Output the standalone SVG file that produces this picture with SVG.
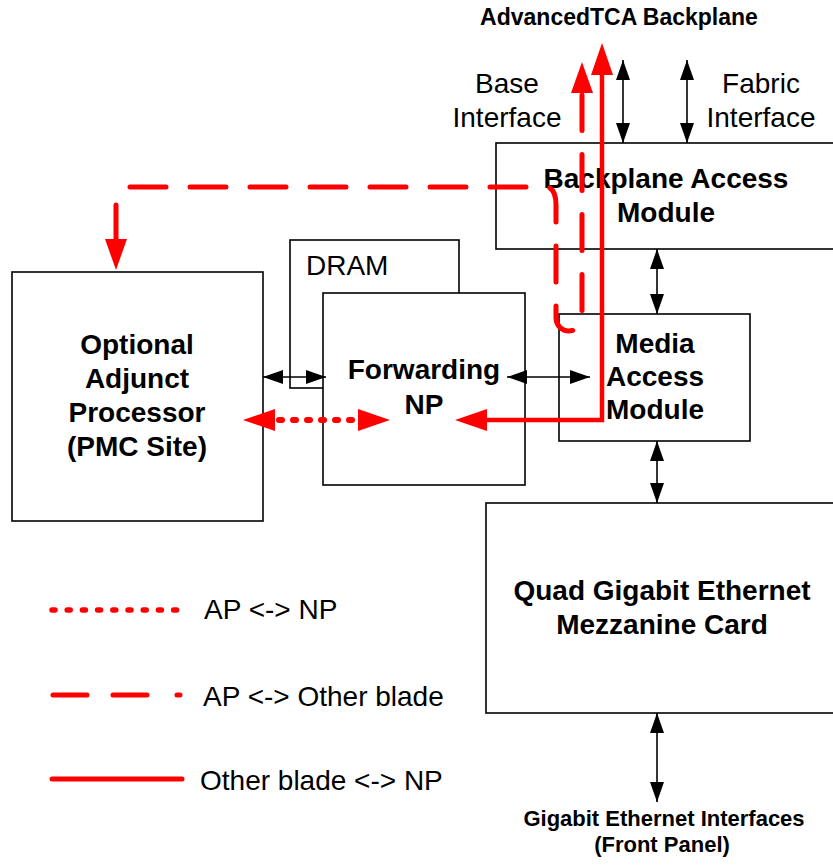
<svg xmlns="http://www.w3.org/2000/svg" width="833" height="865" viewBox="0 0 833 865">
<defs>
<style>
.box{fill:#fff;stroke:#000;stroke-width:1.6}
.b{font-family:"Liberation Sans",Arial,sans-serif;font-weight:bold;font-size:28px;fill:#000;text-anchor:middle}
.r{font-family:"Liberation Sans",Arial,sans-serif;font-size:28px;fill:#000}
.t{font-family:"Liberation Sans",Arial,sans-serif;font-weight:bold;font-size:22px;fill:#000;text-anchor:middle}
.bk{stroke:#000;stroke-width:1.6;fill:none;marker-start:url(#ah);marker-end:url(#ah)}
.dash{stroke:#f00;stroke-width:5;fill:none;stroke-dasharray:36 24;stroke-linecap:round;stroke-linejoin:round}
.dot{stroke:#f00;stroke-width:6;fill:none;stroke-dasharray:3 11;stroke-linecap:round}
.solid{stroke:#f00;stroke-width:4.5;fill:none;stroke-linejoin:miter}
.rh{fill:#f00}
</style>
<marker id="ah" viewBox="0 0 20 14" refX="20" refY="7" markerWidth="20" markerHeight="14" markerUnits="userSpaceOnUse" orient="auto-start-reverse">
<path d="M0,0 L20,7 L0,14 Z" fill="#000"/>
</marker>
</defs>

<g id="title">
<text class="t" x="619" y="25" style="font-size:23px">AdvancedTCA Backplane</text>
<text class="r" x="507" y="93" text-anchor="middle">Base</text>
<text class="r" x="507" y="127" text-anchor="middle">Interface</text>
<text class="r" x="761" y="93" text-anchor="middle">Fabric</text>
<text class="r" x="761" y="127" text-anchor="middle">Interface</text>
</g>

<g id="bam">
<rect class="box" x="496" y="143" width="350" height="106"/>
<text class="b" x="666" y="188">Backplane Access</text>
<text class="b" x="666" y="222">Module</text>
</g>

<g id="dram">
<rect class="box" x="290" y="240" width="169" height="148"/>
<text class="r" x="306" y="275">DRAM</text>
</g>

<g id="np">
<rect class="box" x="323" y="293" width="202" height="192"/>
<text class="b" x="424" y="379">Forwarding</text>
<text class="b" x="424" y="414">NP</text>
</g>

<g id="ap">
<rect class="box" x="12" y="272" width="251" height="249"/>
<text class="b" x="137" y="354">Optional</text>
<text class="b" x="137" y="388">Adjunct</text>
<text class="b" x="137" y="422">Processor</text>
<text class="b" x="137" y="456">(PMC Site)</text>
</g>

<g id="mam">
<rect class="box" x="559" y="314" width="191" height="127"/>
<text class="b" x="655" y="353">Media</text>
<text class="b" x="655" y="386">Access</text>
<text class="b" x="655" y="419">Module</text>
</g>

<g id="quad">
<rect class="box" x="486" y="503" width="360" height="210"/>
<text class="b" x="662" y="600">Quad Gigabit Ethernet</text>
<text class="b" x="662" y="634">Mezzanine Card</text>
</g>

<g id="front">
<text class="t" x="664" y="826">Gigabit Ethernet Interfaces</text>
<text class="t" x="662" y="852">(Front Panel)</text>
</g>

<g id="connectors">
<line class="bk" x1="623" y1="60" x2="623" y2="143"/>
<line class="bk" x1="687" y1="60" x2="687" y2="143"/>
<line class="bk" x1="657" y1="249" x2="657" y2="314"/>
<line class="bk" x1="657" y1="441" x2="657" y2="503"/>
<line class="bk" x1="657" y1="713" x2="657" y2="802"/>
<line class="bk" x1="263" y1="377" x2="326" y2="377"/>
<line class="bk" x1="507" y1="377" x2="590" y2="377"/>

<!-- AP <-> Other blade (dashed) -->
<path class="dash" d="M116,205 L116,240"/>
<path class="dash" d="M130,187 L548,187 Q556,190 556,205 L556,318 A13,13 0 0 0 582,318 L582,95"/>
<polygon class="rh" points="582,62 571,93 593,93"/>
<polygon class="rh" points="116,270 105,239 127,239"/>

<!-- Other blade <-> NP (solid) -->
<path class="solid" d="M602,74 L602,420 L486,420"/>
<polygon class="rh" points="602,43 591,75 613,75"/>
<polygon class="rh" points="455,420 487,409 487,431"/>

<!-- AP <-> NP (dotted) -->
<path class="dot" d="M279,420 L356,420"/>
<polygon class="rh" points="243,420 275,409 275,431"/>
<polygon class="rh" points="390,420 358,409 358,431"/>
</g>

<g id="legend">
<path class="dot" d="M52,610 L182,610" style="stroke-width:5.5;stroke-dasharray:3 12.2"/>
<path class="dash" d="M53,695 L87,695 M113,695 L147,695 M177,695 L180,695" style="stroke-dasharray:none"/>
<path class="solid" d="M52,779 L182,779" style="stroke-width:5;stroke-linecap:round"/>
<text class="r" x="204" y="619">AP &lt;-&gt; NP</text>
<text class="r" x="203" y="706">AP &lt;-&gt; Other blade</text>
<text class="r" x="200" y="790">Other blade &lt;-&gt; NP</text>
</g>
</svg>
